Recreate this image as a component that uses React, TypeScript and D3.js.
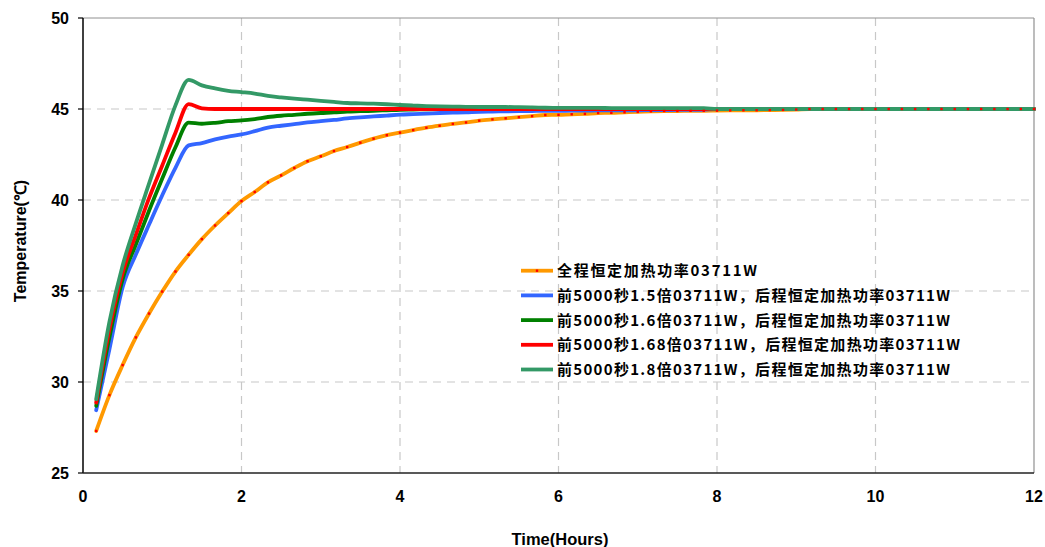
import React from 'react';
import * as d3 from 'd3';

// sampling: one reading every 10 minutes, first at 10 min
const sampleCount = 72;
const sampleHours = Array.from({ length: sampleCount }, (_, i) => (i + 1) / 6);

const xTicks = [0, 2, 4, 6, 8, 10, 12];
const yTicks = [25, 30, 35, 40, 45, 50];

const seriesNames = [
  '全程恒定加热功率03711W',
  '前5000秒1.5倍03711W，后程恒定加热功率03711W',
  '前5000秒1.6倍03711W，后程恒定加热功率03711W',
  '前5000秒1.68倍03711W，后程恒定加热功率03711W',
  '前5000秒1.8倍03711W，后程恒定加热功率03711W',
];

const seriesColors = ['#FF9900', '#3366FF', '#008000', '#FF0000', '#339966'];

const constantPower = [
  27.31, 29.28, 30.93, 32.45, 33.76, 34.97, 36.07, 36.99, 37.85, 38.6, 39.28, 39.94,
  40.44, 40.97, 41.35, 41.76, 42.13, 42.4, 42.69, 42.91, 43.15, 43.37, 43.56, 43.7,
  43.84, 43.97, 44.08, 44.18, 44.26, 44.36, 44.43, 44.49, 44.55, 44.61, 44.67, 44.68,
  44.71, 44.73, 44.78, 44.79, 44.82, 44.84, 44.87, 44.89, 44.89, 44.9, 44.9, 44.91,
  44.92, 44.93, 44.93, 44.94, 44.95, 44.97, 45, 45, 45, 45, 45, 45,
  45, 45, 45, 45, 45, 45, 45, 45, 45, 45, 45, 45,
];

const boost150 = [
  28.45, 31.8, 35.2, 37.0, 38.65, 40.26, 41.77, 43.0, 43.13, 43.33, 43.48, 43.6,
  43.78, 43.98, 44.08, 44.17, 44.26, 44.33, 44.4, 44.48, 44.54, 44.59, 44.64, 44.69,
  44.72, 44.75, 44.78, 44.8, 44.82, 44.85, 44.86, 44.87, 44.88, 44.89, 44.9, 44.9,
  44.91, 44.91, 44.92, 44.92, 44.93, 44.93, 44.94, 44.94, 44.95, 44.95, 44.96, 45,
  45, 45, 45, 45, 45, 45, 45, 45, 45, 45, 45, 45,
  45, 45, 45, 45, 45, 45, 45, 45, 45, 45, 45, 45,
];

const boost160 = [
  28.69, 32.45, 35.65, 37.55, 39.41, 41.18, 42.9, 44.25, 44.19, 44.24, 44.33, 44.37,
  44.45, 44.56, 44.63, 44.68, 44.74, 44.78, 44.81, 44.86, 44.88, 44.9, 44.93, 44.96,
  44.97, 44.98, 44.99, 45, 45, 45, 45, 45, 45, 45, 45, 45,
  45, 45, 45, 45, 45, 45, 45, 45, 45, 45, 45, 45,
  45, 45, 45, 45, 45, 45, 45, 45, 45, 45, 45, 45,
  45, 45, 45, 45, 45, 45, 45, 45, 45, 45, 45, 45,
];

const boost168 = [
  28.87, 32.9, 36.0, 38.08, 40.1, 41.9, 43.7, 45.27, 45.04, 45, 45, 45,
  45, 45, 45, 45, 45, 45, 45, 45, 45, 45, 45, 45,
  45, 45, 45, 45, 45, 45, 45, 45, 45, 45, 45, 45,
  45, 45, 45, 45, 45, 45, 45, 45, 45, 45, 45, 45,
  45, 45, 45, 45, 45, 45, 45, 45, 45, 45, 45, 45,
  45, 45, 45, 45, 45, 45, 45, 45, 45, 45, 45, 45,
];

const boost180 = [
  29.06, 33.3, 36.4, 38.72, 40.9, 43.06, 45.2, 46.6, 46.3, 46.13, 46.0, 45.93,
  45.85, 45.72, 45.64, 45.57, 45.51, 45.45, 45.39, 45.33, 45.31, 45.29, 45.26, 45.22,
  45.19, 45.16, 45.14, 45.13, 45.12, 45.11, 45.11, 45.11, 45.1, 45.09, 45.07, 45.06,
  45.06, 45.06, 45.06, 45.05, 45.05, 45.05, 45.05, 45.05, 45.05, 45.05, 45.05, 45,
  45, 45, 45, 45, 45, 45, 45, 45, 45, 45, 45, 45,
  45, 45, 45, 45, 45, 45, 45, 45, 45, 45, 45, 45,
];

const seriesValues = [constantPower, boost150, boost160, boost168, boost180];
const legendTextWidths = [200, 393, 393, 403, 393];

export default function App() {
  const width = 1045;
  const height = 547;
  const x = d3.scaleLinear().domain([0, 12]).range([83, 1034]);
  const y = d3.scaleLinear().domain([25, 50]).range([473, 18]);

  const line = d3
    .line<number>()
    .x((_, i) => x(sampleHours[i]))
    .y((d) => y(d))
    .curve(d3.curveMonotoneX);

  const tickFont = '"Liberation Sans", Arial, sans-serif';
  const legendY0 = 270.7;
  const legendStep = 24.7;

  return (
    <div style={{ position: 'absolute', left: 0, top: 0 }}>
      <svg width={width} height={height} style={{ display: 'block', background: '#fff' }}>
        {/* grid */}
        {yTicks
          .filter((t) => t !== 25 && t !== 50)
          .map((t) => (
            <line
              key={'gy' + t}
              x1={x(0)}
              x2={x(12)}
              y1={y(t)}
              y2={y(t)}
              stroke="#c8c8c8"
              strokeWidth={1.2}
              strokeDasharray="8,6"
            />
          ))}
        {xTicks
          .filter((t) => t !== 0 && t !== 12)
          .map((t) => (
            <line
              key={'gx' + t}
              x1={x(t)}
              x2={x(t)}
              y1={y(50)}
              y2={y(25)}
              stroke="#c8c8c8"
              strokeWidth={1.2}
              strokeDasharray="8,6"
            />
          ))}
        {/* frame */}
        <line x1={x(0)} x2={x(12)} y1={y(50)} y2={y(50)} stroke="#909090" strokeWidth={1} />
        <line x1={x(12)} x2={x(12)} y1={y(50)} y2={y(25)} stroke="#909090" strokeWidth={1.2} />

        {/* series lines */}
        {seriesValues.map((vals, si) => (
          <path
            key={'s' + si}
            d={line(vals) || ''}
            fill="none"
            stroke={seriesColors[si]}
            strokeWidth={3.8}
            strokeLinejoin="round"
            strokeLinecap="round"
          />
        ))}
        {/* markers of constant-power series */}
        {constantPower.map((v, i) => (
          <rect
            key={'m' + i}
            x={x(sampleHours[i]) - 1.2}
            y={y(v) - 1.2}
            width={2.4}
            height={2.4}
            fill="#FF0000"
          />
        ))}

        {/* axes */}
        <line x1={x(0)} x2={x(0)} y1={y(50)} y2={y(25)} stroke="#000" strokeWidth={1.5} />
        <line x1={x(0)} x2={x(12)} y1={y(25)} y2={y(25)} stroke="#222" strokeWidth={1.5} />
        {yTicks.map((t) => (
          <g key={'yt' + t}>
            <line x1={x(0) - 5} x2={x(0)} y1={y(t)} y2={y(t)} stroke="#000" strokeWidth={1.2} />
            <text
              x={69}
              y={y(t)}
              dy="0.36em"
              textAnchor="end"
              fontFamily={tickFont}
              fontWeight="bold"
              fontSize={16}
              fill="#000"
            >
              {t}
            </text>
          </g>
        ))}
        {xTicks.map((t) => (
          <text
            key={'xt' + t}
            x={x(t)}
            y={502}
            textAnchor="middle"
            fontFamily={tickFont}
            fontWeight="bold"
            fontSize={16}
            fill="#000"
          >
            {t}
          </text>
        ))}
        <text
          x={560}
          y={545}
          textAnchor="middle"
          fontFamily={tickFont}
          fontWeight="bold"
          fontSize={16.5}
          fill="#000"
        >
          Time(Hours)
        </text>
        <text
          transform="translate(26,241) rotate(-90)"
          textAnchor="middle"
          fontFamily={tickFont}
          fontWeight="bold"
          fontSize={16}
          fill="#000"
        >
          Temperature(℃)
        </text>

        {/* legend */}
        {seriesNames.map((name, i) => {
          const ly = legendY0 + i * legendStep;
          return (
            <g key={'lg' + i}>
              <line x1={521} x2={553} y1={ly} y2={ly} stroke={seriesColors[i]} strokeWidth={3.8} />
              {i === 0 && <rect x={535.8} y={ly - 1.2} width={2.4} height={2.4} fill="#FF0000" />}
              <text
                x={557}
                y={ly}
                dy="0.36em"
                fontFamily='"Noto Sans CJK SC", sans-serif'
                fontWeight="bold"
                fontSize={15}
                fill="#000"
                textLength={legendTextWidths[i]}
                lengthAdjust="spacing"
              >
                {name}
              </text>
            </g>
          );
        })}
      </svg>
    </div>
  );
}
